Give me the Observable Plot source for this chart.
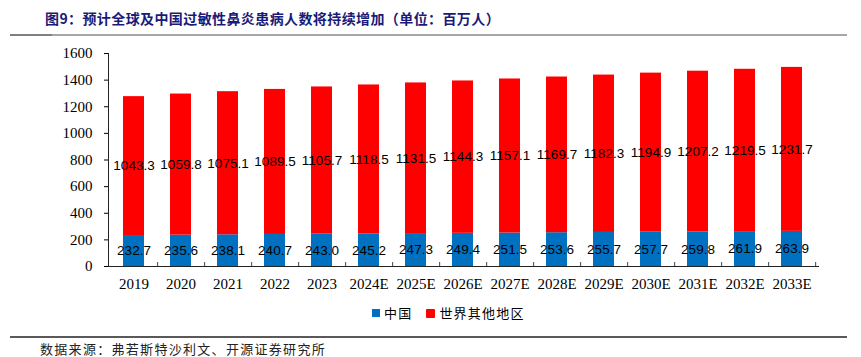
<!DOCTYPE html>
<html>
<head>
<meta charset="utf-8">
<script src="https://cdn.jsdelivr.net/npm/d3@7"></script>
<script src="https://cdn.jsdelivr.net/npm/@observablehq/plot@0.6"></script>
<style>
  body { margin: 0; background: #fff; width: 861px; height: 357px; position: relative; overflow: hidden; }
  .abs { position: absolute; }
  #title { left: 45px; top: 8px; font-family: "Noto Sans CJK SC"; font-weight: 700; font-size: 14px; letter-spacing: 0.4px; color: #1a1a78; white-space: nowrap; line-height: 20px; }
  #tline { left: 10px; top: 34px; width: 837px; height: 2px; background: #a6a6a6; }
  #tline2 { left: 10px; top: 34px; width: 42px; height: 2px; background: #7f7f7f; }
  #chart { left: 0; top: 40px; }
  #legend { left: 372px; top: 304px; font-family: "Noto Sans CJK SC"; font-size: 13px; letter-spacing: 1.2px; color: #000; display: flex; align-items: center; white-space: nowrap; line-height: 18px; }
  .sw { display: inline-block; width: 8px; height: 8px; margin-right: 4px; }
  #cline { left: 10px; top: 336px; width: 837px; height: 2px; background: #595959; }
  #caption { left: 40px; top: 341px; font-family: "Noto Sans CJK SC"; font-size: 13px; letter-spacing: 1.3px; color: #222; white-space: nowrap; line-height: 16px; }
</style>
</head>
<body>
<div id="title" class="abs">图9：预计全球及中国过敏性鼻炎患病人数将持续增加（单位：百万人）</div>
<div id="tline" class="abs"></div>
<div id="tline2" class="abs"></div>
<div id="chart" class="abs"></div>
<div id="legend" class="abs"></div>
<div id="cline" class="abs"></div>
<div id="caption" class="abs">数据来源：弗若斯特沙利文、开源证券研究所</div>
<script>
const years = ["2019","2020","2021","2022","2023","2024E","2025E","2026E","2027E","2028E","2029E","2030E","2031E","2032E","2033E"];
const seriesNames = ["中国", "世界其他地区"];
const chinaValues = [232.7,235.6,238.1,240.7,243.0,245.2,247.3,249.4,251.5,253.6,255.7,257.7,259.8,261.9,263.9];
const restValues = [1043.3,1059.8,1075.1,1089.5,1105.7,1118.5,1131.5,1144.3,1157.1,1169.7,1182.3,1194.9,1207.2,1219.5,1231.7];
const yTicks = [0,200,400,600,800,1000,1200,1400,1600];
const colors = ["#0070C0", "#FF0000"];

const data = [];
years.forEach((y, i) => {
  data.push({year: y, series: seriesNames[0], value: chinaValues[i]});
  data.push({year: y, series: seriesNames[1], value: restValues[i]});
});

const W = 861, H = 256, mt = 13, mb = 30, ml = 108, mr = 43;
const step = (W - ml - mr) / years.length;
const plotH = H - mt - mb;

const chart = Plot.plot({
  width: W,
  height: H,
  marginTop: mt,
  marginBottom: mb,
  marginLeft: ml,
  marginRight: mr,
  style: {background: "transparent", color: "#000", fontFamily: "Liberation Serif", fontSize: "15px"},
  x: {domain: years, paddingInner: 0.55, paddingOuter: 0.275, label: null},
  y: {domain: [0, 1600], label: null},
  color: {domain: seriesNames, range: colors},
  marks: [
    Plot.barY(data, Plot.stackY({x: "year", y: "value", z: "series", fill: "series", order: seriesNames})),
    Plot.text(data, Plot.stackY({x: "year", y: "value", z: "series", order: seriesNames,
      text: d => d.value.toFixed(1), fill: "#000", fontFamily: "Liberation Sans", fontSize: 13.5})),
    Plot.frame({anchor: "left", stroke: "#222"}),
    Plot.frame({anchor: "bottom", stroke: "#222"}),
    Plot.ruleX(years, {x: d => d, dx: step / 2, insetTop: plotH - 4, stroke: "#444"}),
    Plot.axisY({ticks: yTicks, tickSize: 4, tickFormat: () => "", label: null}),
    Plot.text(yTicks, {y: d => d, text: d => String(d), frameAnchor: "left", textAnchor: "end", dx: -16,
      fontFamily: "Liberation Serif", fontSize: 15, fill: "#000"}),
    Plot.axisX({tickSize: 0, tickPadding: 12, fontFamily: "Liberation Serif", fontSize: 15, label: null})
  ]
});
document.getElementById("chart").appendChild(chart);

const legend = document.getElementById("legend");
seriesNames.forEach((s, i) => {
  const item = document.createElement("span");
  item.style.display = "inline-flex";
  item.style.alignItems = "center";
  item.style.marginRight = i === 0 ? "14px" : "0";
  const sw = document.createElement("span");
  sw.className = "sw";
  sw.style.background = colors[i];
  if (i === 1) { sw.style.width = "9px"; sw.style.height = "9px"; sw.style.borderRadius = "1px"; }
  item.appendChild(sw);
  item.appendChild(document.createTextNode(s));
  legend.appendChild(item);
});
</script>
</body>
</html>
